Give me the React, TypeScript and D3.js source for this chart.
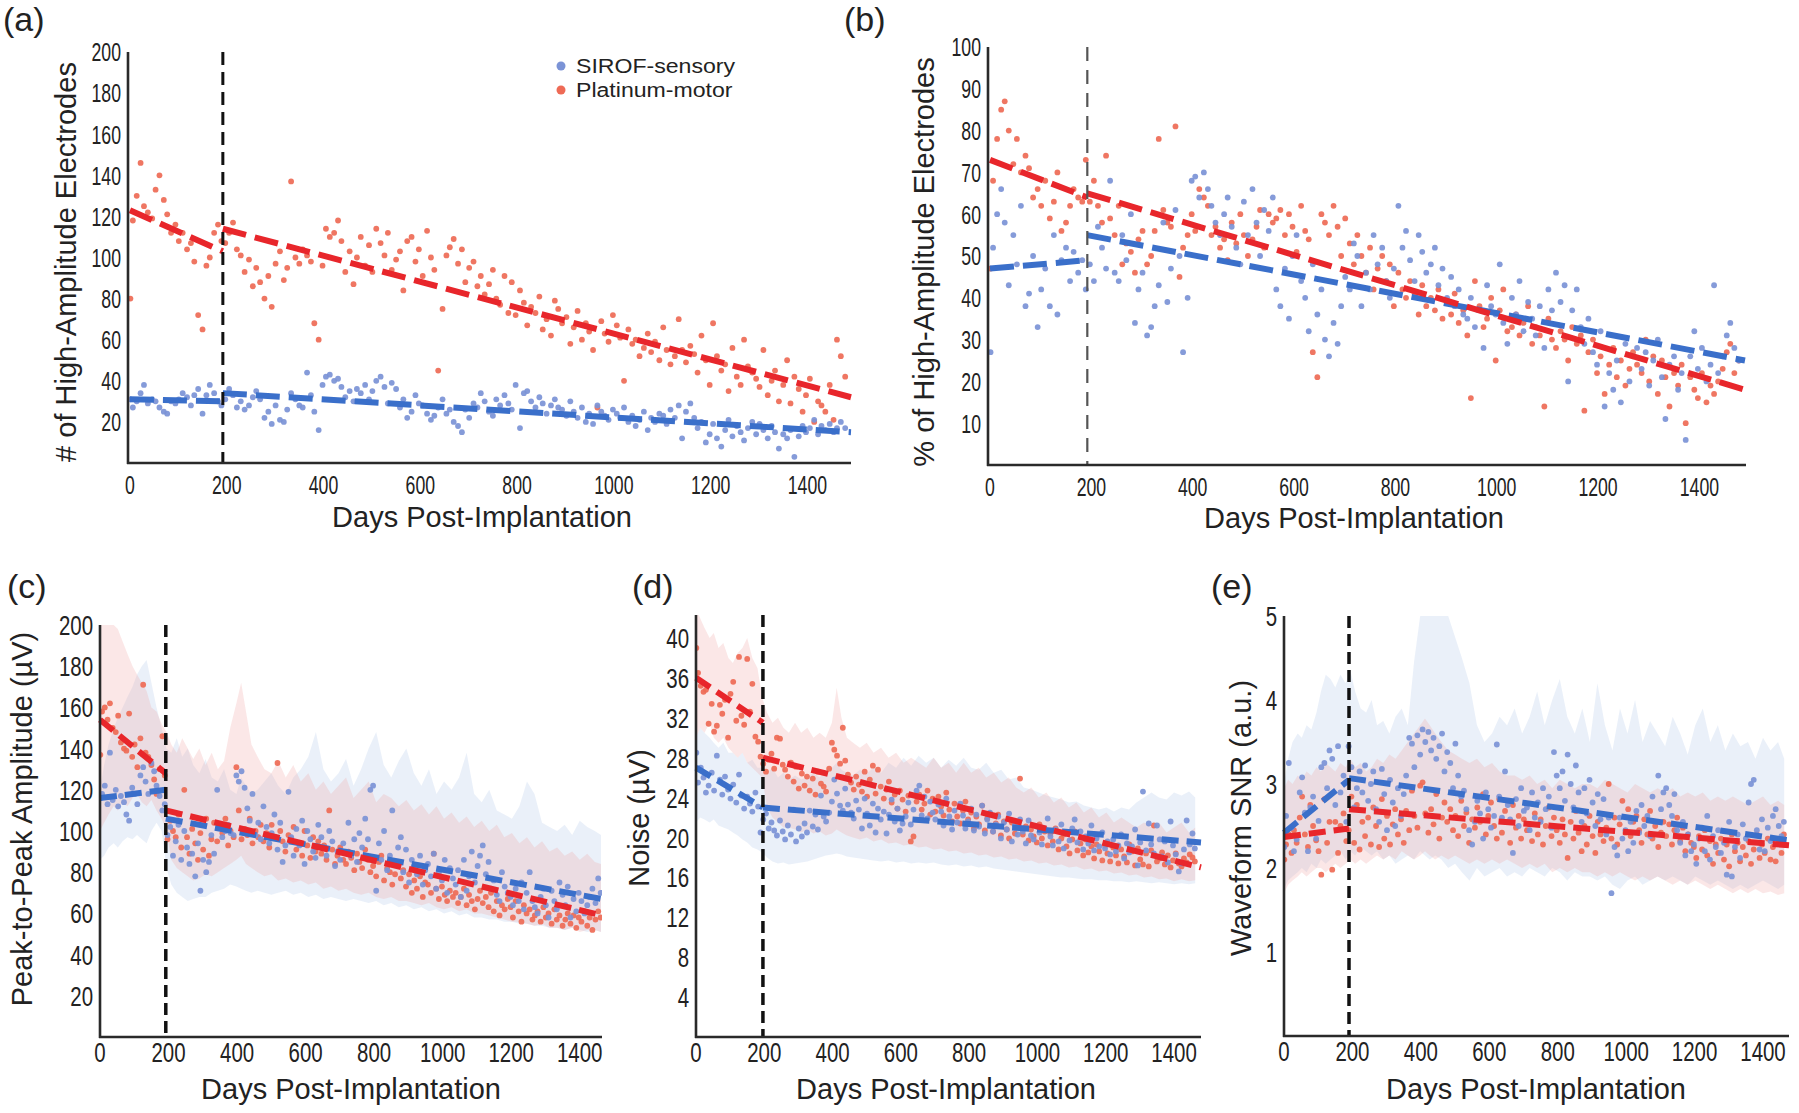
import React from "react";
import * as d3 from "d3";

// ---------- DATA ----------
const sessionDays = [
  1,6,14,22,29,37,46,53,61,70,
  77,85,94,101,109,118,126,133,141,150,
  158,165,174,182,189,197,205,213,221,229,
  237,246,254,261,269,278,286,293,301,310,
  318,325,333,342,350,357,366,374,381,390,
  398,405,413,422,430,437,445,454,462,469,
  477,486,494,501,509,518,526,533,541,550,
  558,565,573,582,590,597,605,614,622,629,
  637,646,654,661,669,678,686,693,701,710,
  718,725,733,742,750,757,765,774,782,789,
  797,806,814,821,829,838,846,853,861,870,
  878,885,893,902,910,917,925,934,942,949,
  957,966,974,981,989,998,1006,1013,1021,1030,
  1038,1045,1053,1062,1070,1077,1085,1094,1102,1109,
  1117,1126,1134,1141,1149,1158,1166,1173,1181,1190,
  1198,1205,1213,1222,1230,1237,1245,1254,1262,1269,
  1277,1286,1294,1301,1309,1318,1326,1333,1341,1350,
  1358,1365,1373,1382,1390,1397,1405,1414,1422,1429,
  1437,1446,1454,1461,1469,1478,
];

// (a) number of high-amplitude electrodes
const sirofCount = [
  31,27,30,34,38,29,31,30,27,25,
  24,30,29,31,34,32,28,33,36,24,
  33,38,34,30,28,31,36,33,27,30,
  26,28,32,35,31,22,25,19,28,21,
  20,26,34,31,28,27,44,33,25,16,
  38,42,43,40,41,37,32,35,30,36,
  34,38,31,35,40,42,37,29,39,36,
  27,31,22,25,33,29,28,24,21,23,
  27,31,24,26,20,18,15,26,22,29,
  27,34,30,25,23,31,28,33,29,26,
  38,17,34,35,30,27,32,29,24,28,
  31,27,26,23,30,25,22,27,20,24,
  19,28,25,23,21,26,24,22,27,20,
  23,18,21,25,16,22,20,24,23,19,
  26,22,28,12,25,29,22,17,20,10,
  14,19,12,8,16,21,13,18,15,11,
  17,20,14,19,16,12,18,15,7,14,
  12,16,3,13,18,15,17,21,14,18,
  16,19,15,17,20,17,
];
const platCount = [
  80,118,130,146,125,122,119,133,140,128,
  121,112,116,108,112,104,107,98,72,65,
  96,100,112,116,108,107,112,117,104,101,
  93,99,86,95,88,80,91,76,97,103,
  89,95,137,100,97,104,101,98,68,60,
  96,114,110,112,118,108,93,103,87,100,
  110,96,106,93,114,107,101,112,94,99,
  103,84,108,110,98,104,91,113,100,94,
  45,75,101,105,109,97,104,88,95,98,
  86,91,82,87,94,80,77,91,73,88,
  72,84,78,67,76,73,81,65,70,62,
  79,75,68,71,58,66,74,60,68,64,
  55,27,69,63,59,72,67,61,40,65,
  58,60,52,56,63,54,59,50,66,55,
  48,52,70,55,49,57,53,44,62,50,
  38,68,52,45,48,35,56,42,38,60,
  47,44,41,37,55,33,40,45,30,38,
  50,29,42,36,25,33,41,20,30,28,
  25,38,21,60,52,42,
];

// (b) % of high-amplitude electrodes
const sirofPct = [
  27,52,60,66,58,43,55,48,62,38,
  41,50,33,42,47,38,55,36,49,52,
  44,51,46,49,42,48,44,57,52,47,
  68,46,44,55,49,60,34,42,46,31,
  33,38,43,58,39,47,61,50,27,40,
  68,69,64,70,66,62,58,55,60,64,
  57,52,48,63,55,66,58,50,61,56,
  64,42,38,47,35,50,55,44,40,32,
  48,36,42,30,26,34,29,38,45,42,
  53,50,38,46,42,55,48,52,44,40,
  47,62,52,56,49,44,55,51,46,48,
  52,43,47,40,45,38,42,36,35,40,
  33,37,28,43,38,36,48,34,29,40,
  36,44,32,39,35,31,38,28,42,37,
  46,39,43,20,37,42,33,29,35,27,
  24,32,14,22,18,25,15,29,20,26,
  28,23,27,19,25,30,21,11,24,26,
  18,22,6,26,32,23,28,20,24,43,
  22,26,31,34,28,25,
];
const platPct = [
  47,68,78,85,87,80,72,78,70,74,
  71,64,66,62,68,59,63,70,56,58,
  62,66,64,63,73,63,68,62,58,74,
  59,55,62,48,53,51,46,54,56,48,
  50,56,78,61,58,57,81,45,52,55,
  60,56,66,64,62,55,57,52,54,49,
  58,53,60,55,50,54,57,61,52,60,
  58,59,61,55,60,57,51,62,56,54,
  27,21,60,58,55,62,57,50,59,53,
  48,55,50,46,52,42,47,50,44,48,
  38,46,42,40,44,41,36,43,38,40,
  37,42,35,39,36,41,34,37,31,16,
  44,38,33,35,40,25,37,42,32,33,
  36,31,34,38,29,33,31,14,35,30,
  28,32,30,25,33,29,31,13,27,30,
  22,26,17,24,28,21,25,19,23,27,
  24,22,30,20,26,17,25,21,14,22,
  19,24,10,21,18,16,22,15,19,17,
  20,23,27,29,22,25,
];

// (c) peak-to-peak amplitude (uV)
const sirofAmp = [
  116,118,122,113,138,115,120,112,117,114,
  108,105,121,118,113,127,131,124,118,133,
  129,122,117,110,113,98,102,88,95,103,
  86,100,92,84,89,78,94,71,86,80,
  85,98,89,120,102,97,100,103,99,98,
  127,124,129,121,111,105,118,98,104,96,
  112,102,94,99,108,91,104,85,93,119,
  97,88,101,93,105,84,100,96,90,87,
  103,97,92,88,100,95,83,90,86,94,
  90,104,88,96,85,99,92,106,96,120,
  122,71,94,86,100,81,88,110,84,92,
  97,80,91,75,86,83,79,88,74,81,
  84,78,89,72,80,76,86,70,82,77,
  74,81,68,86,71,78,90,75,83,88,
  93,79,85,72,76,69,66,80,73,70,
  68,64,72,66,75,62,70,80,66,63,
  60,68,72,64,58,71,66,62,75,69,
  64,73,58,67,61,70,66,60,64,68,
  72,65,77,70,
];
const platAmp = [
  137,158,160,154,162,150,148,156,143,140,
  139,157,136,142,131,145,171,138,136,132,
  125,118,130,146,127,96,105,100,97,108,
  92,120,97,89,101,94,86,99,91,106,
  88,96,104,95,102,99,106,93,100,97,
  131,110,96,101,98,106,94,100,97,103,
  95,99,92,103,97,133,100,95,90,98,
  96,102,91,94,88,100,93,87,97,90,
  95,89,93,86,110,91,84,88,92,86,
  84,90,87,81,89,85,82,91,86,80,
  83,78,85,88,76,82,80,74,79,84,
  77,81,73,79,70,76,72,78,68,75,
  74,70,89,72,67,73,69,66,71,68,
  70,65,68,72,64,69,66,62,67,71,
  65,68,63,70,61,66,59,64,62,67,
  63,58,66,61,56,64,60,62,57,59,
  61,56,63,58,60,55,62,57,59,54,
  57,60,55,59,53,58,56,61,54,58,
  52,57,61,58,
];

// (d) noise (uV)
const sirofNoise = [
  28.5,25.5,27,26,24.5,25.2,26.5,24.7,28.2,25.8,
  24.3,26.1,24.8,23.9,25.3,23.5,26.3,24.2,22.9,24.1,
  23.4,22.6,24.5,23.1,20.5,21.8,22.4,20.9,21.5,20.7,
  20.2,21.7,20.6,19.8,21.2,20.3,22.8,19.6,20.9,20.1,
  21.4,20.5,22.7,21.1,22.3,20.8,24.2,22.1,21.6,22.5,
  23.6,25.8,24.4,23.2,22.7,24.9,23.3,22.5,21.9,23.7,
  22.8,20.9,23.9,22.4,21.2,23.4,20.5,22.9,21.8,22.6,
  20.4,22.3,23.8,21.6,22.9,20.7,21.4,22.1,23.5,21.3,
  22.8,24.7,25.2,22.2,24.1,21.9,23.6,22.5,21.8,23.3,
  22.6,21.2,23.9,22.1,20.8,22.7,21.5,23.4,22.2,20.9,
  21.6,22.9,20.7,22.3,21.1,23.2,20.4,21.8,22.5,20.6,
  21.3,22.1,19.9,21.5,20.8,22.4,19.6,21.2,20.3,21.8,
  20.6,19.4,21.7,20.2,19.8,21.1,20.5,19.3,20.9,21.9,
  20.1,19.2,20.8,19.6,21.3,18.9,20.4,19.7,20.9,21.8,
  19.5,20.6,18.8,20.1,19.4,21.2,18.7,19.9,19.1,20.5,
  18.9,19.6,18.3,19.8,18.6,19.2,20.3,17.9,19.4,18.5,
  19.1,20.8,17.2,19.5,24.6,18.7,21.4,19.3,18.4,21.2,
  19.8,18.1,19.6,17.5,21.6,19.2,18.3,16.6,17.4,18.8,
  21.7,19.3,20.4,18.9,
];
const platNoise = [
  39,36.5,35.2,34.6,34.8,31.4,33.4,30.6,31.2,33.3,
  32.4,33.8,30,34.4,35.6,31.7,38.1,32.2,31.3,37.9,
  32.6,35.4,30.1,29.6,28.1,27.4,26.6,27.8,28.4,26.9,
  30,29.9,27.3,26.8,26.1,27.5,25.6,27.1,24.9,26.4,
  25.2,26.1,24.7,25.9,24.3,26.6,25.4,25.1,24.6,26.9,
  29.5,28.8,28.2,27.4,31,27.7,26.3,25.5,24.8,26.1,
  25.3,24.6,26.6,24.1,25.8,27.2,24.4,26.8,25.1,23.9,
  24.8,25.6,23.5,24.3,22.9,24.7,23.8,22.6,24.2,19.6,
  20.1,23.6,24.3,22.8,23.4,24.7,22.3,23.9,22.6,24.1,
  23.1,22.2,24.5,22.8,21.6,23.4,22.1,21.4,22.7,23.6,
  21.8,22.5,20.9,22.1,21.3,23.2,20.7,21.9,22.4,20.6,
  21.4,22.3,20.2,21.6,20.8,19.9,21.5,20.4,21.2,25.9,
  20.3,21.1,19.7,20.8,20.1,19.5,21.3,19.9,20.6,19.2,
  20.4,19.6,20.9,18.8,19.9,20.3,19.1,18.4,19.8,20.6,
  18.7,19.4,18.2,19.8,18.5,19.1,17.9,19.3,18.6,17.7,
  19.2,18.4,17.6,19.0,18.2,17.4,18.8,18.1,17.5,19.3,
  18.6,17.2,18.9,17.8,17.3,18.4,17.1,18.7,21.2,17.6,
  17.9,18.5,17.3,18.2,17.0,17.7,18.4,17.4,17.1,17.9,
  17.5,18.3,18.0,17.6,
];

// (e) waveform SNR
const sirofSnr = [
  2.25,2.62,3.25,2.48,2.2,2.34,2.9,3.08,2.66,2.2,
  2.72,2.85,2.35,2.56,3.2,3.25,2.95,3.4,3.3,2.75,
  3.45,2.9,3.1,2.55,3.45,3.2,2.72,2.95,3.15,2.9,
  3.22,2.8,3.0,3.15,2.7,2.55,3.18,2.88,2.45,3.05,
  2.78,2.5,2.95,2.62,2.88,3.1,3.55,3.48,3.2,3.58,
  3.35,3.65,3.5,3.62,3.4,3.55,3.3,3.45,3.6,3.15,
  3.38,3.25,2.95,3.48,3.1,2.85,2.92,2.7,2.45,2.28,
  2.55,2.8,2.65,2.35,2.9,2.7,2.48,2.62,3.47,2.85,
  2.6,3.15,2.75,2.58,2.18,2.82,2.5,2.95,2.68,2.72,
  2.45,2.9,2.6,2.78,2.55,2.95,2.7,2.85,2.48,3.38,
  3.1,2.95,3.15,2.8,3.35,3.0,2.72,3.22,2.9,2.55,
  2.95,2.65,3.05,2.78,2.5,2.88,2.58,2.82,2.4,2.6,
  1.7,2.25,2.15,2.6,2.35,2.45,2.2,2.55,2.3,2.68,
  2.42,2.75,2.5,2.62,2.38,2.85,2.55,3.1,2.7,2.9,
  2.95,2.75,2.62,2.88,2.45,2.3,2.55,2.15,2.4,2.2,
  2.28,2.05,2.35,2.48,2.2,2.62,2.1,2.38,2.25,2.45,
  2.18,2.3,1.92,2.55,1.9,2.25,2.4,2.12,2.52,2.35,
  2.78,3.0,3.05,2.45,2.22,2.58,2.2,2.48,2.32,2.62,
  2.7,2.5,2.38,2.55,
];
const platSnr = [
  2.1,2.28,2.4,2.18,2.45,2.3,2.6,2.85,2.4,2.25,
  2.75,2.5,2.33,2.2,1.92,2.82,2.3,2.55,1.98,2.55,
  2.18,2.5,2.65,2.32,2.45,2.85,2.3,2.75,2.22,2.55,
  2.38,2.6,2.28,2.72,2.5,2.25,2.82,2.35,2.62,2.28,
  2.52,2.7,2.4,2.58,2.3,2.68,2.45,2.92,2.62,2.48,
  2.98,3.02,2.65,2.42,2.7,2.52,2.88,2.35,2.6,2.78,
  2.55,2.7,2.45,2.62,2.38,2.8,2.5,2.66,2.3,2.58,
  2.48,2.72,2.55,2.88,2.4,2.62,2.78,2.5,2.35,2.82,
  2.42,2.68,2.55,2.3,2.75,2.48,2.62,2.35,2.58,2.45,
  2.52,2.32,2.65,2.4,2.58,2.28,2.5,2.72,2.38,2.6,
  2.45,2.3,2.58,2.4,2.12,2.55,2.35,2.68,2.42,2.2,
  2.5,2.28,2.62,2.38,2.18,2.55,2.4,2.32,2.48,3.0,
  2.35,2.6,2.28,2.52,2.8,2.42,2.7,2.38,2.55,2.62,
  2.45,2.3,2.58,2.4,2.68,2.35,2.5,2.25,2.42,2.55,
  2.38,2.52,2.28,2.45,2.6,2.32,2.48,2.2,2.4,2.3,
  2.25,2.12,2.38,2.22,2.45,2.15,2.32,2.05,2.28,2.18,
  2.35,2.1,2.28,2.02,2.4,2.2,2.3,2.08,2.25,2.15,
  2.32,2.05,2.22,2.4,2.12,2.28,2.18,2.35,2.1,2.25,
  2.08,2.3,2.18,2.4,
];

// shaded spread bands (c, d, e)
const bandDays = [
  0,12,25,40,52,66,80,95,108,122,
  136,150,165,180,194,208,224,240,256,272,
  290,308,326,344,362,380,398,412,426,442,
  460,480,500,520,542,564,586,608,630,652,
  674,696,718,740,762,784,806,828,850,872,
  894,916,938,960,982,1004,1026,1048,1070,1092,
  1114,1136,1158,1180,1202,1224,1246,1268,1290,1312,
  1334,1356,1378,1400,1422,1444,1462,
];
const ampPlatUpper = [
  200,200,200,200,198,192,186,180,176,172,
  168,160,158,152,148,142,138,145,140,135,
  140,132,138,130,134,150,162,172,158,142,
  136,130,128,134,126,132,124,128,120,124,
  118,122,126,116,120,124,114,118,116,112,
  115,110,113,108,112,106,109,104,107,102,
  105,100,103,97,99,94,97,92,95,90,
  92,88,90,86,89,85,84,
];
const ampPlatLower = [
  100,104,108,112,110,114,112,116,118,114,
  112,115,110,106,100,86,82,80,78,76,
  77,79,78,80,82,84,86,88,84,82,
  80,78,79,76,77,75,76,74,75,72,
  73,71,72,70,69,70,68,67,68,66,
  66,65,64,65,63,62,63,61,62,60,
  60,59,58,57,56,56,55,54,55,53,
  53,52,53,51,52,52,51,
];
const ampSirofUpper = [
  120,132,142,150,155,160,165,170,176,180,
  183,172,160,150,140,138,145,136,140,132,
  128,135,126,124,130,120,118,126,122,118,
  120,124,128,122,118,126,130,136,148,130,
  124,128,135,122,130,140,148,132,126,134,
  140,128,122,130,118,124,120,126,138,118,
  114,120,110,108,106,112,124,118,104,102,
  100,103,98,105,102,100,98,
];
const ampSirofLower = [
  86,88,92,94,92,95,97,96,98,96,
  94,100,104,100,82,74,70,68,66,67,
  68,68,70,71,72,74,73,72,71,70,
  71,70,69,70,71,69,70,68,69,67,
  68,67,66,67,66,65,66,64,65,63,
  64,62,63,61,62,60,61,59,60,58,
  58,57,57,56,56,55,55,54,54,53,
  53,52,53,52,51,52,51,
];
const noisePlatUpper = [
  43,42,41,40,40.5,39,39.5,38,37.5,38.5,
  39,40,38,37,34,32.5,31.5,32,31,30.5,
  31.5,30.5,31,30,30.5,30,31.5,35,32,30,
  29.5,29,29.5,28.5,29,28,28.5,27.5,28,27.5,
  27,28,27,27.5,26.5,27.5,26.5,27,26,26.5,
  25.5,26,25,24.5,25,24,24.5,23.5,24,23,
  23.5,22.5,23,22,22.5,21.5,22,21.5,21,21.5,
  21,21.5,20.5,21,21.5,20.5,21,
];
const noisePlatLower = [
  30,31,30.5,31.5,30,29.5,30,29,28.5,28,
  28.5,27.5,27,26.5,26,23,22,21.5,21,21,
  20.8,20.5,20.8,20.4,20.6,20.2,20.4,20.8,20.5,20.2,
  20,19.8,20,19.6,19.8,19.4,19.5,19.2,19.3,19,
  19.1,18.8,18.9,18.6,18.7,18.4,18.5,18.2,18.3,18,
  18.1,17.8,17.9,17.6,17.7,17.4,17.5,17.2,17.3,17,
  17.1,16.8,16.9,16.6,16.7,16.4,16.5,16.2,16.3,16,
  16.1,15.8,15.9,15.6,15.8,15.6,15.7,
];
const noiseSirofUpper = [
  30,31,30.5,30,29.5,29,29.5,28.5,28.5,28,
  28.5,27.5,27.8,27,27,26.5,27,26,26.5,25.8,
  26.2,25.8,26,26.5,26,26.8,27,27.5,26.8,26.5,
  26.2,26.8,26.4,27,26.5,27.5,27,28,27.2,28.2,
  27.5,28,27,27.8,27.2,28,27,26.8,27.5,26.5,
  26.8,25.8,26,25,24.8,24.5,24.2,24,23.8,23.5,
  23.6,23.2,23,22.8,23,22.6,23,22.8,23.5,24,
  24.5,24,23.8,24.5,24.2,24.6,24,
];
const noiseSirofLower = [
  21.5,22,21.8,21.5,21.8,21.2,21,20.8,20.5,20.2,
  19.8,19.5,19,18.8,18.5,18,17.6,17.4,17.5,17.3,
  17.4,17.5,17.6,17.8,18,18.2,18.3,18.4,18.3,18.1,
  18,17.9,17.8,17.7,17.6,17.7,17.5,17.6,17.4,17.5,
  17.4,17.5,17.3,17.2,17.3,17.1,17.2,17,17.1,16.9,
  16.8,16.7,16.6,16.5,16.4,16.3,16.2,16.1,16,16,
  15.9,15.8,15.8,15.7,15.7,15.6,15.6,15.5,15.6,15.5,
  15.4,15.5,15.4,15.3,15.4,15.3,15.4,
];
const snrSirofUpper = [
  3.0,3.3,3.5,3.6,3.55,3.7,3.65,3.85,4.1,4.3,
  4.25,4.15,4.3,4.2,4.35,4.1,3.9,3.85,4.0,3.7,
  3.75,3.6,3.8,3.9,3.7,4.45,5.0,5.0,5.0,5.0,
  5.0,5.0,4.75,4.5,4.2,3.7,3.5,3.6,3.8,3.7,
  3.9,3.6,3.8,4.1,3.7,4.0,4.25,3.8,3.6,3.9,
  3.5,4.2,3.7,3.4,3.9,3.6,4.0,3.5,3.75,3.6,
  3.45,3.8,3.6,3.35,3.7,3.9,3.5,3.7,3.4,3.6,
  3.45,3.5,3.3,3.55,3.4,3.5,3.3,
];
const snrSirofLower = [
  1.75,1.85,1.9,1.95,2.0,1.95,2.05,2.0,2.1,2.05,
  2.1,2.15,2.2,2.1,2.2,2.15,2.25,2.2,2.15,2.2,
  2.1,2.15,2.05,2.1,2.15,2.1,2.2,2.15,2.1,2.15,
  2.1,2.0,2.05,1.95,1.85,2.0,1.9,1.95,2.0,1.9,
  1.95,1.9,2.0,1.95,1.9,2.0,1.95,1.85,1.95,1.9,
  1.9,1.85,1.9,1.8,1.75,1.85,1.9,1.8,1.85,1.9,
  1.85,1.9,1.85,1.8,1.9,1.85,1.8,1.85,1.8,1.75,
  1.8,1.75,1.8,1.85,1.8,1.75,1.8,
];
const snrPlatUpper = [
  2.95,3.05,3.0,3.1,3.05,3.15,3.1,3.2,3.15,3.25,
  3.2,3.15,3.25,3.2,3.3,3.2,3.25,3.15,3.2,3.3,
  3.25,3.35,3.3,3.4,3.5,3.6,3.7,3.78,3.7,3.6,
  3.5,3.4,3.35,3.3,3.25,3.3,3.2,3.25,3.15,3.1,
  3.1,3.05,3.1,3.0,3.05,2.95,3.05,3.0,2.95,3.0,
  3.0,2.95,3.05,3.0,2.95,2.9,3.0,2.95,2.9,2.95,
  2.9,2.95,2.85,2.9,2.85,2.9,2.8,2.85,2.8,2.85,
  2.8,2.75,2.8,2.85,2.75,2.8,2.75,
];
const snrPlatLower = [
  1.7,1.8,1.85,1.9,1.95,1.9,1.95,2.0,2.0,1.95,
  2.0,2.05,2.0,2.05,2.1,2.05,2.1,2.05,2.1,2.15,
  2.1,2.15,2.1,2.2,2.15,2.1,2.15,2.2,2.15,2.1,
  2.15,2.1,2.15,2.1,2.05,2.1,2.05,2.1,2.05,2.1,
  2.05,2.0,2.05,2.0,2.05,1.95,2.0,1.95,2.0,1.95,
  1.95,1.9,1.95,1.9,1.95,1.9,1.85,1.9,1.85,1.9,
  1.85,1.8,1.85,1.8,1.85,1.8,1.75,1.8,1.75,1.7,
  1.75,1.7,1.75,1.7,1.72,1.68,1.7,
];

// piecewise linear trend fits: [startDay, startValue, endDay, endValue]
const trendSirofA = [[0, 31, 192, 30], [192, 34, 1490, 15]];
const trendPlatA = [[0, 123, 192, 103], [192, 114, 1490, 32]];
const trendSirofB = [[0, 47, 192, 49], [192, 55, 1490, 25]];
const trendPlatB = [[0, 73, 192, 64], [192, 65, 1490, 18]];
const trendSirofC = [[0, 116, 192, 120], [192, 106, 1465, 67]];
const trendPlatC = [[0, 154, 192, 128], [192, 110, 1465, 59]];
const trendSirofD = [[0, 27, 196, 23], [196, 23, 1479, 19.5]];
const trendPlatD = [[0, 36, 196, 31.5], [196, 28, 1479, 17]];
const trendSirofE = [[0, 2.42, 190, 3.05], [190, 3.07, 1476, 2.33]];
const trendPlatE = [[0, 2.37, 190, 2.47], [190, 2.7, 1476, 2.27]];

const xTickValues = [0, 200, 400, 600, 800, 1000, 1200, 1400];
const yTicksA = [20, 40, 60, 80, 100, 120, 140, 160, 180, 200];
const yTicksB = [10, 20, 30, 40, 50, 60, 70, 80, 90, 100];
const yTicksC = [20, 40, 60, 80, 100, 120, 140, 160, 180, 200];
const yTicksD = [4, 8, 12, 16, 20, 24, 28, 32, 36, 40];
const yTicksE = [1, 2, 3, 4, 5];

const legendLabels = ["SIROF-sensory", "Platinum-motor"];

// ---------- STYLE ----------
const FONT = "'Liberation Sans', Arial, Helvetica, sans-serif";
const BLUE_PT = "#7b93d6";
const RED_PT = "#ee6a55";
const BLUE_LINE = "#3a6fca";
const RED_LINE = "#e8262b";
const AXIS = "#2a2a2a";

const panels = [
  {
    id: "a", label: "(a)", labelX: 3, labelY: 31,
    left: 128, right: 851, top: 52, bottom: 463, xMin: -4, xMax: 1490, yMax: 200,
    yTicks: yTicksA, tickFs: 26, tickScale: 0.68, xTickDy: 31,
    sirof: sirofCount, plat: platCount, trendS: trendSirofA, trendP: trendPlatA,
    vline: 192, vColor: "#111", vWidth: 3, vDash: "13 7",
    yTitle: "# of High-Amplitude Electrodes", yTitleX: 76, yTitleY: 262,
    xTitleX: 482, xTitleY: 527,
    dash: "24 9", lw: 6, r: 2.9, bands: null, legend: true,
  },
  {
    id: "b", label: "(b)", labelX: 844, labelY: 31,
    left: 988, right: 1746, top: 47, bottom: 465, xMin: -4, xMax: 1492, yMax: 100,
    yTicks: yTicksB, tickFs: 26, tickScale: 0.68, xTickDy: 31,
    sirof: sirofPct, plat: platPct, trendS: trendSirofB, trendP: trendPlatB,
    vline: 192, vColor: "#555", vWidth: 2.2, vDash: "14 9",
    yTitle: "% of High-Amplitude Electrodes", yTitleX: 934, yTitleY: 262,
    xTitleX: 1354, xTitleY: 528,
    dash: "24 9", lw: 6, r: 2.9, bands: null, legend: false,
  },
  {
    id: "c", label: "(c)", labelX: 7, labelY: 598,
    left: 100, right: 602, top: 625, bottom: 1037, xMin: 0, xMax: 1465, yMax: 200,
    yTicks: yTicksC, tickFs: 28, tickScale: 0.73, xTickDy: 25,
    sirof: sirofAmp, plat: platAmp, trendS: trendSirofC, trendP: trendPlatC,
    vline: 192, vColor: "#111", vWidth: 3.5, vDash: "12 6",
    yTitle: "Peak-to-Peak Amplitude (µV)", yTitleX: 32, yTitleY: 819,
    xTitleX: 351, xTitleY: 1099,
    dash: "17 8", lw: 6, r: 2.9,
    bands: { sUp: ampSirofUpper, sLo: ampSirofLower, pUp: ampPlatUpper, pLo: ampPlatLower },
    legend: false,
  },
  {
    id: "d", label: "(d)", labelX: 632, labelY: 598,
    left: 696, right: 1201, top: 615, bottom: 1037, xMin: 0, xMax: 1479, yMax: 42.3,
    yTicks: yTicksD, tickFs: 28, tickScale: 0.73, xTickDy: 25,
    sirof: sirofNoise, plat: platNoise, trendS: trendSirofD, trendP: trendPlatD,
    vline: 196, vColor: "#111", vWidth: 3.5, vDash: "12 6",
    yTitle: "Noise (µV)", yTitleX: 649, yTitleY: 818,
    xTitleX: 946, xTitleY: 1099,
    dash: "17 8", lw: 6, r: 2.9,
    bands: { sUp: noiseSirofUpper, sLo: noiseSirofLower, pUp: noisePlatUpper, pLo: noisePlatLower },
    legend: false,
  },
  {
    id: "e", label: "(e)", labelX: 1211, labelY: 598,
    left: 1284, right: 1789, top: 616, bottom: 1036, xMin: 0, xMax: 1476, yMax: 5,
    yTicks: yTicksE, tickFs: 28, tickScale: 0.73, xTickDy: 25,
    sirof: sirofSnr, plat: platSnr, trendS: trendSirofE, trendP: trendPlatE,
    vline: 190, vColor: "#111", vWidth: 3.5, vDash: "12 6",
    yTitle: "Waveform SNR (a.u.)", yTitleX: 1251, yTitleY: 818,
    xTitleX: 1536, xTitleY: 1099,
    dash: "17 8", lw: 6, r: 2.9,
    bands: { sUp: snrSirofUpper, sLo: snrSirofLower, pUp: snrPlatUpper, pLo: snrPlatLower },
    legend: false,
  },
];

function Panel({ p }: { p: any }) {
  const x = d3.scaleLinear().domain([p.xMin, p.xMax]).range([p.left, p.right]);
  const y = d3.scaleLinear().domain([0, p.yMax]).range([p.bottom, p.top]);
  const clipId = `clip-${p.id}`;
  const line = d3.line<number[]>().x((d) => x(d[0])).y((d) => y(d[1]));
  const bandArea = (up: number[], lo: number[]) =>
    d3.area<number>()
      .x((_, i) => x(bandDays[i]))
      .y0((_, i) => y(lo[i]))
      .y1((_, i) => y(up[i]))(up) || "";

  const pts = (vals: number[], color: string) =>
    vals.map((v, i) => (
      <circle key={i} cx={x(sessionDays[i])} cy={y(v)} r={p.r} fill={color} fillOpacity={0.92} />
    ));

  const trend = (segs: number[][], color: string) =>
    segs.map((s, i) => (
      <path key={i} d={line([[s[0], s[1]], [s[2], s[3]]]) || ""} stroke={color}
        strokeWidth={p.lw} strokeDasharray={p.dash} fill="none" />
    ));

  return (
    <g>
      <defs>
        <clipPath id={clipId}>
          <rect x={p.left} y={p.top} width={p.right - p.left} height={p.bottom - p.top} />
        </clipPath>
      </defs>
      <g clipPath={`url(#${clipId})`}>
        {p.bands && (
          <>
            <path d={bandArea(p.bands.sUp, p.bands.sLo)} fill="#b3c6e8" fillOpacity={0.27} />
            <path d={bandArea(p.bands.pUp, p.bands.pLo)} fill="#f2a6a6" fillOpacity={0.27} />
          </>
        )}
        {pts(p.plat, RED_PT)}
        {pts(p.sirof, BLUE_PT)}
      </g>
      {trend(p.trendS, BLUE_LINE)}
      {trend(p.trendP, RED_LINE)}
      <line x1={x(p.vline)} x2={x(p.vline)} y1={p.top} y2={p.bottom} stroke={p.vColor}
        strokeWidth={p.vWidth} strokeDasharray={p.vDash} />
      {/* axes */}
      <line x1={p.left} x2={p.left} y1={p.top} y2={p.bottom + 1} stroke={AXIS} strokeWidth={2.6} />
      <line x1={p.left - 1} x2={p.right} y1={p.bottom} y2={p.bottom} stroke={AXIS} strokeWidth={2.6} />
      {p.yTicks.map((t: number) => (
        <text key={t} transform={`translate(${p.left - 7},${y(t) + p.tickFs * 0.36}) scale(${p.tickScale},1)`}
          textAnchor="end" fontSize={p.tickFs} fill="#222">{t}</text>
      ))}
      {xTickValues.map((t) => (
        <text key={t} transform={`translate(${x(t)},${p.bottom + p.xTickDy}) scale(${p.tickScale},1)`}
          textAnchor="middle" fontSize={p.tickFs} fill="#222">{t}</text>
      ))}
      <text x={p.xTitleX} y={p.xTitleY} textAnchor="middle" fontSize={29} fill="#222">
        Days Post-Implantation
      </text>
      <text transform={`translate(${p.yTitleX},${p.yTitleY}) rotate(-90)`} textAnchor="middle"
        fontSize={29} fill="#222">{p.yTitle}</text>
      <text x={p.labelX} y={p.labelY} fontSize={34} fill="#222">{p.label}</text>
      {p.legend && (
        <g>
          <circle cx={561} cy={66} r={4.5} fill={BLUE_PT} />
          <text transform="translate(576,73) scale(1.1,1)" fontSize={21} fill="#222">{legendLabels[0]}</text>
          <circle cx={561} cy={90} r={4.5} fill={RED_PT} />
          <text transform="translate(576,97) scale(1.1,1)" fontSize={21} fill="#222">{legendLabels[1]}</text>
        </g>
      )}
    </g>
  );
}

export default function App() {
  return (
    <svg width={1799} height={1113} viewBox="0 0 1799 1113"
      style={{ position: "absolute", left: 0, top: 0, background: "#fff", fontFamily: FONT }}>
      <rect x={0} y={0} width={1799} height={1113} fill="#fff" />
      {panels.map((p) => <Panel key={p.id} p={p} />)}
    </svg>
  );
}
